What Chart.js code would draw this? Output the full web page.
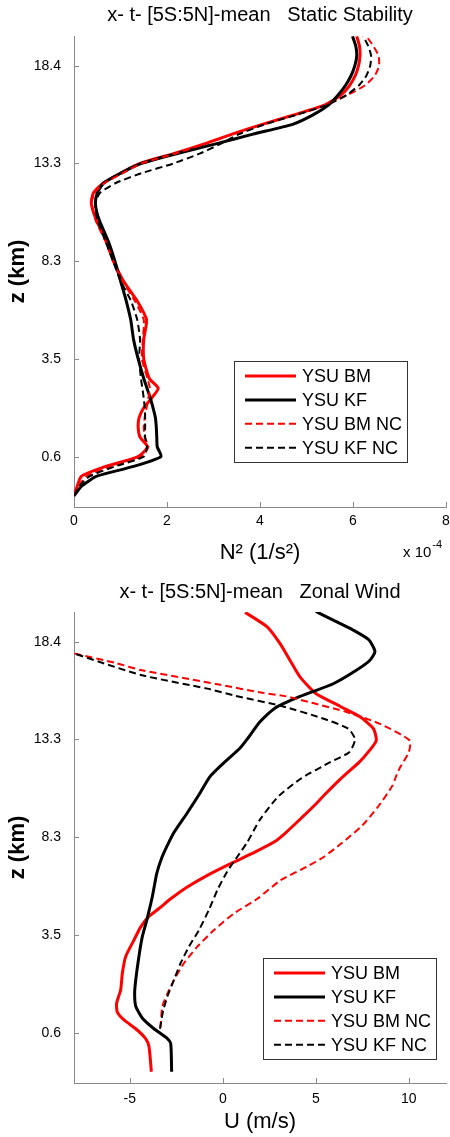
<!DOCTYPE html>
<html>
<head>
<meta charset="utf-8">
<script src="https://cdn.jsdelivr.net/npm/chart.js@4.4.1/dist/chart.umd.min.js"></script>
<style>
  html, body { margin: 0; padding: 0; background: #fff; }
  #topBox { position: absolute; left: 0; top: 0; width: 450px; height: 575px; }
  #botBox { position: absolute; left: 0; top: 575px; width: 450px; height: 562px; }
</style>
</head>
<body>
<div id="topBox"><canvas id="n2Chart" width="450" height="575"></canvas></div>
<div id="botBox"><canvas id="uChart" width="450" height="562"></canvas></div>
<script>
// vertical axis: model level position, labelled with height (km)
const zTickPos = [1, 2, 3, 4, 5];
const zTickLabels = ['0.6', '3.5', '8.3', '13.3', '18.4'];
const zMin = 0.485, zMax = 5.304;

const seriesNames = ['YSU BM', 'YSU KF', 'YSU BM NC', 'YSU KF NC'];

// static stability N^2 (x 1e-4 1/s^2)
const zN2 = [0.6, 0.7, 0.8, 0.9, 1.0, 1.1, 1.2, 1.3, 1.4, 1.5, 1.6, 1.7, 1.8, 2.0, 2.2, 2.4, 2.6, 2.8, 3.0, 3.2,
             3.4, 3.5, 3.6, 3.7, 3.8, 3.9, 4.0, 4.1, 4.2, 4.3, 4.4, 4.5, 4.6, 4.7, 4.8, 4.9, 5.0, 5.1, 5.2, 5.3];
const n2BM   = [0.0, 0.07, 0.16, 0.68, 1.38, 1.58, 1.42, 1.38, 1.40, 1.50, 1.67, 1.81, 1.62, 1.50, 1.50, 1.56, 1.35, 1.06, 0.85, 0.70,
                0.50, 0.42, 0.37, 0.42, 0.63, 1.0, 1.42, 2.14, 2.8, 3.4, 4.05, 4.75, 5.4, 5.74, 5.93, 6.05, 6.12, 6.15, 6.14, 6.08];
const n2KF   = [0.0, 0.17, 0.49, 1.28, 1.87, 1.79, 1.78, 1.77, 1.75, 1.70, 1.64, 1.57, 1.50, 1.38, 1.28, 1.22, 1.12, 1.0, 0.88, 0.74,
                0.56, 0.49, 0.46, 0.50, 0.64, 1.0, 1.45, 2.2, 3.05, 3.85, 4.7, 5.15, 5.48, 5.68, 5.84, 5.96, 6.04, 6.08, 6.06, 5.99];
const n2BMNC = [0.0, 0.1, 0.27, 0.77, 1.45, 1.60, 1.52, 1.50, 1.52, 1.56, 1.60, 1.63, 1.58, 1.46, 1.48, 1.50, 1.30, 1.04, 0.84, 0.68,
                0.48, 0.41, 0.38, 0.44, 0.66, 1.05, 1.45, 2.17, 2.82, 3.42, 4.05, 4.75, 5.42, 5.88, 6.26, 6.47, 6.56, 6.55, 6.44, 6.29];
const n2KFNC = [0.0, 0.12, 0.34, 0.88, 1.5, 1.57, 1.53, 1.53, 1.53, 1.52, 1.50, 1.47, 1.44, 1.40, 1.42, 1.36, 1.22, 1.0, 0.84, 0.68,
                0.52, 0.47, 0.46, 0.56, 0.9, 1.45, 2.14, 2.7, 3.15, 3.55, 4.1, 4.8, 5.45, 5.86, 6.13, 6.29, 6.37, 6.39, 6.33, 6.22];
const n2Ticks = [0, 2, 4, 6, 8];

// zonal wind U (m/s)
const zBM = [0.60, 0.86, 0.94, 1.04, 1.13, 1.21, 1.30, 1.44, 1.61, 1.78, 1.95, 2.08, 2.19, 2.27, 2.37, 2.49, 2.61, 2.73,
             2.85, 2.95, 3.04, 3.21, 3.33, 3.45, 3.60, 3.77, 3.89, 3.99, 4.11, 4.23, 4.34, 4.47, 4.64, 4.81, 4.98, 5.15, 5.30];
const uBM = [-3.84, -3.97, -4.15, -4.68, -5.31, -5.67, -5.71, -5.49, -5.40, -5.22, -4.77, -4.42, -3.97, -3.43, -2.80, -1.91, -0.83, 0.42,
             1.75, 2.75, 3.35, 4.3, 4.95, 5.55, 6.35, 7.35, 7.9, 8.25, 8.1, 7.4, 6.3, 5.0, 4.15, 3.61, 3.08, 2.4, 1.2];
const zKF = [0.60, 0.89, 0.94, 1.04, 1.15, 1.27, 1.40, 1.54, 1.78, 1.98, 2.15, 2.39, 2.63, 2.78, 2.90, 3.04, 3.24,
             3.45, 3.62, 3.76, 3.91, 4.0, 4.18, 4.32, 4.44, 4.57, 4.71, 4.81, 4.90, 5.02, 5.12, 5.22, 5.31];
const uKF = [-2.75, -2.80, -2.98, -3.70, -4.33, -4.68, -4.74, -4.68, -4.51, -4.33, -4.09, -3.79, -3.55, -3.30, -3.02, -2.65, -1.94,
             -1.23, -0.69, 0.05, 0.92, 1.3, 2.0, 2.8, 4.15, 5.94, 7.2, 7.91, 8.18, 7.85, 7.0, 5.94, 5.0];
const zBMNC = [1.05, 1.27, 1.40, 1.54, 1.71, 1.88, 2.05, 2.22, 2.37, 2.56, 2.70, 2.80, 2.94, 3.12, 3.30, 3.52, 3.64,
               3.72, 3.87, 3.99, 4.16, 4.28, 4.37, 4.44, 4.48, 4.56, 4.71, 4.78, 4.88];
const uBMNC = [-3.35, -3.25, -2.98, -2.62, -2.09, -1.37, -0.47, 0.60, 1.86, 3.11, 4.54, 5.44, 6.4, 7.5, 8.3, 9.1, 9.35,
               9.55, 10.0, 10.05, 8.45, 6.66, 4.9, 3.44, 2.04, -0.15, -4.41, -5.71, -8];
const zKFNC = [1.04, 1.13, 1.23, 1.37, 1.50, 1.71, 1.88, 2.05, 2.26, 2.46, 2.65, 2.80, 2.95, 3.18, 3.41, 3.60, 3.77,
               3.87, 4.0, 4.11, 4.22, 4.34, 4.45, 4.52, 4.66, 4.88];
const uKFNC = [-3.38, -3.30, -3.20, -2.98, -2.71, -2.27, -1.82, -1.28, -0.74, -0.29, 0.24, 0.78, 1.32, 2.0, 2.95, 4.2, 5.8,
               6.8, 7.11, 6.75, 5.3, 3.2, 0.6, -0.83, -4.41, -8];
const uTicks = [-5, 0, 5, 10];

const FONT = 'Arial, "Liberation Sans", Helvetica, sans-serif';
const axisGrey = '#8a8a8a';

function pairs(xs, zs) {
  return xs.map((v, i) => ({ x: v, y: zs[i] }));
}

// solid/dashed red/black, later series drawn on top like matlab
function lineSet(label, pts, color, dashed, order) {
  return {
    label: label,
    data: pts,
    showLine: true,
    borderColor: color,
    backgroundColor: color,
    borderWidth: dashed ? 2 : 3,
    borderDash: dashed ? [7, 4] : [],
    pointRadius: 0,
    pointHoverRadius: 0,
    tension: 0.2,
    fill: false,
    order: order
  };
}

// small tick marks pointing into the plot
const inwardTicks = {
  id: 'inwardTicks',
  afterDraw(chart) {
    const { ctx, chartArea, scales } = chart;
    ctx.save();
    ctx.strokeStyle = axisGrey;
    ctx.lineWidth = 1;
    ctx.beginPath();
    scales.x.ticks.forEach(t => {
      const px = Math.round(scales.x.getPixelForValue(t.value)) + 0.5;
      ctx.moveTo(px, chartArea.bottom);
      ctx.lineTo(px, chartArea.bottom - 5);
    });
    scales.y.ticks.forEach(t => {
      const py = Math.round(scales.y.getPixelForValue(t.value)) + 0.5;
      ctx.moveTo(chartArea.left, py);
      ctx.lineTo(chartArea.left + 5, py);
    });
    ctx.stroke();
    ctx.restore();
  }
};

// boxed legend in the lower right of the axes
const boxLegend = {
  id: 'boxLegend',
  afterDraw(chart, args, opts) {
    const { ctx, chartArea } = chart;
    const w = 173, h = 101;
    const left = Math.round(chartArea.right - opts.right - w);
    const top = Math.round(chartArea.bottom - opts.bottom - h);
    ctx.save();
    ctx.fillStyle = '#fff';
    ctx.fillRect(left, top, w, h);
    ctx.strokeStyle = '#333';
    ctx.lineWidth = 1;
    ctx.strokeRect(left + 0.5, top + 0.5, w, h);
    ctx.font = '18px ' + FONT;
    ctx.textBaseline = 'middle';
    chart.data.datasets.forEach((ds, i) => {
      const y = top + 15 + i * 23.9;
      ctx.strokeStyle = ds.borderColor;
      ctx.lineWidth = ds.borderWidth;
      ctx.setLineDash(ds.borderDash);
      ctx.beginPath();
      ctx.moveTo(left + 11, y);
      ctx.lineTo(left + 62, y);
      ctx.stroke();
      ctx.setLineDash([]);
      ctx.fillStyle = '#000';
      ctx.fillText(ds.label, left + 68, y + 1);
    });
    ctx.restore();
  }
};

// "x 10^-4" multiplier under the right end of the x axis
const expLabel = {
  id: 'expLabel',
  afterDraw(chart, args, opts) {
    if (!opts.text) return;
    const ctx = chart.ctx;
    ctx.save();
    ctx.fillStyle = '#000';
    ctx.textBaseline = 'alphabetic';
    ctx.font = '15px ' + FONT;
    ctx.fillText(opts.text, opts.x, opts.y);
    const w = ctx.measureText(opts.text).width;
    ctx.font = '11px ' + FONT;
    ctx.fillText(opts.exp, opts.x + w + 1, opts.y - 9);
    ctx.restore();
  }
};

function makePanel(canvasId, cfg) {
  return new Chart(document.getElementById(canvasId), {
    type: 'scatter',
    data: { datasets: cfg.datasets },
    plugins: [inwardTicks, boxLegend, expLabel],
    options: {
      responsive: false,
      animation: false,
      events: [],
      layout: { padding: { left: 0, right: 4, top: 0, bottom: 0 } },
      plugins: {
        legend: { display: false },
        tooltip: { enabled: false },
        title: {
          display: true,
          text: cfg.title,
          fullSize: false,
          color: '#000',
          font: { family: FONT, size: 20, weight: 'normal', lineHeight: 1.2 },
          padding: cfg.titlePad
        },
        boxLegend: cfg.legendPos,
        expLabel: cfg.exp || {}
      },
      scales: {
        x: {
          type: 'linear',
          min: cfg.xMin,
          max: cfg.xMax,
          afterBuildTicks: s => { s.ticks = cfg.xTicks.map(v => ({ value: v })); },
          afterFit: s => { s.height = cfg.xHeight; s.paddingLeft = 0; s.paddingRight = 0; },
          grid: { display: true, drawOnChartArea: false, drawTicks: false },
          border: { display: true, color: axisGrey, width: 1 },
          ticks: {
            color: '#000',
            padding: cfg.xTickPad,
            maxRotation: 0,
            font: { family: FONT, size: 14 },
            callback: v => String(v)
          },
          title: {
            display: true,
            text: cfg.xTitle,
            color: '#000',
            font: { family: FONT, size: 22, lineHeight: 1.2 },
            padding: { top: 0, bottom: cfg.xTitlePad }
          }
        },
        y: {
          type: 'linear',
          min: zMin,
          max: zMax,
          afterBuildTicks: s => { s.ticks = zTickPos.map(v => ({ value: v })); },
          afterFit: s => { s.width = 74; s.paddingTop = 0; s.paddingBottom = 0; },
          grid: { display: true, drawOnChartArea: false, drawTicks: false },
          border: { display: true, color: axisGrey, width: 1 },
          ticks: {
            color: '#000',
            padding: 13,
            font: { family: FONT, size: 14 },
            callback: v => zTickLabels[zTickPos.indexOf(v)]
          },
          title: {
            display: true,
            text: 'z (km)',
            color: '#000',
            font: { family: FONT, size: 22, weight: 'bold', lineHeight: 1.2 },
            padding: { top: 5, bottom: 0 }
          }
        }
      }
    }
  });
}

makePanel('n2Chart', {
  title: 'x- t- [5S:5N]-mean   Static Stability',
  titlePad: { top: 3, bottom: 9 },
  datasets: [
    lineSet(seriesNames[0], pairs(n2BM, zN2), '#ff0000', false, 3),
    lineSet(seriesNames[1], pairs(n2KF, zN2), '#000000', false, 2),
    lineSet(seriesNames[2], pairs(n2BMNC, zN2), '#ff0000', true, 1),
    lineSet(seriesNames[3], pairs(n2KFNC, zN2), '#000000', true, 0)
  ],
  xMin: 0, xMax: 8, xTicks: n2Ticks,
  xHeight: 68, xTickPad: 6,
  xTitle: 'N\u00b2 (1/s\u00b2)', xTitlePad: 9,
  legendPos: { right: 38.7, bottom: 45.3 },
  exp: { text: 'x 10', exp: '-4', x: 403, y: 557 }
});

makePanel('uChart', {
  title: 'x- t- [5S:5N]-mean   Zonal Wind',
  titlePad: { top: 5, bottom: 8 },
  datasets: [
    lineSet(seriesNames[0], pairs(uBM, zBM), '#ff0000', false, 3),
    lineSet(seriesNames[1], pairs(uKF, zKF), '#000000', false, 2),
    lineSet(seriesNames[2], pairs(uBMNC, zBMNC), '#ff0000', true, 1),
    lineSet(seriesNames[3], pairs(uKFNC, zKFNC), '#000000', true, 0)
  ],
  xMin: -8, xMax: 12, xTicks: uTicks,
  xHeight: 54, xTickPad: 8,
  xTitle: 'U (m/s)', xTitlePad: 2,
  legendPos: { right: 10, bottom: 23.7 }
});
</script>
</body>
</html>
